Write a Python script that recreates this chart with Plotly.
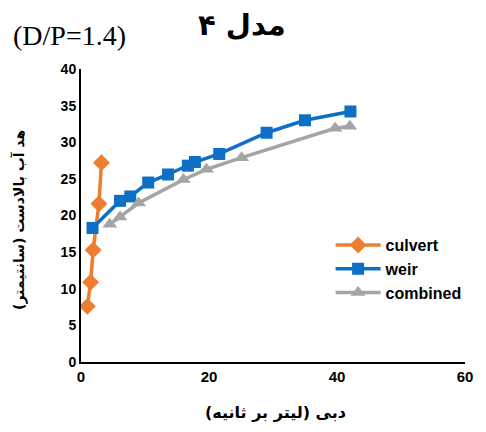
import plotly.graph_objects as go

culvert_x = [1.0, 1.5, 1.9, 2.8, 3.2]
culvert_y = [7.6, 10.9, 15.3, 21.6, 27.2]

weir_x = [1.8, 6.1, 7.7, 10.5, 13.6, 16.7, 17.8, 21.6, 29.0, 35.0, 42.1]
weir_y = [18.3, 22.0, 22.6, 24.5, 25.6, 26.8, 27.3, 28.4, 31.3, 33.0, 34.2]

comb_x = [4.5, 6.1, 9.0, 16.0, 19.6, 25.1, 39.7, 42.0]
comb_y = [18.8, 19.8, 21.7, 24.9, 26.3, 27.9, 31.9, 32.2]

fig = go.Figure()
fig.add_trace(go.Scatter(x=culvert_x, y=culvert_y, name="culvert", mode="lines+markers",
                         line=dict(color="#ED7D31", width=3.5),
                         marker=dict(symbol="diamond", size=13, color="#ED7D31")))
fig.add_trace(go.Scatter(x=weir_x, y=weir_y, name="weir", mode="lines+markers",
                         line=dict(color="#0F6FC6", width=3.5),
                         marker=dict(symbol="square", size=12, color="#0F6FC6")))
fig.add_trace(go.Scatter(x=comb_x, y=comb_y, name="combined", mode="lines+markers",
                         line=dict(color="#A5A5A5", width=3.5),
                         marker=dict(symbol="triangle-up", size=13, color="#A5A5A5")))

# page offset of 8px (body margin) compensated: figure drawn at (8,8)
fig.update_layout(
    width=478, height=424,
    margin=dict(l=73, r=21, t=61, b=70),
    paper_bgcolor="white", plot_bgcolor="white",
    showlegend=True,
    legend=dict(x=0.65, y=0.457, xanchor="left", yanchor="top",
                font=dict(family="Liberation Sans", size=16, color="black", weight="bold"),
                bgcolor="rgba(0,0,0,0)", tracegroupgap=0, itemwidth=45),
    xaxis=dict(range=[0, 60], dtick=20, showgrid=False, zeroline=False,
               showline=True, linecolor="black", linewidth=2, ticks="",
               tickfont=dict(family="Liberation Sans", size=15, color="black", weight="bold")),
    yaxis=dict(range=[0, 40], dtick=5, showgrid=False, zeroline=False,
               showline=True, linecolor="black", linewidth=2, ticks="",
               tickfont=dict(family="Liberation Sans", size=14, color="black", weight="bold")),
)

def px(xp): return (xp - 81) / 384
def py(yp): return (362 - yp) / 293

common = dict(xref="paper", yref="paper", showarrow=False, xanchor="center", yanchor="middle")
fig.update_layout(annotations=[
    dict(text="مدل ۴", x=px(242), y=py(25), **common,
         font=dict(family="DejaVu Sans", size=29, color="black", weight="bold")),
    dict(text="(D/P=1.4)", x=px(69), y=py(35), **common,
         font=dict(family="Liberation Serif", size=28, color="black")),
    dict(text="دبی (لیتر بر ثانیه)", x=px(275), y=py(412), **common,
         font=dict(family="DejaVu Sans", size=16, color="black", weight="bold")),
    dict(text="هد آب بالادست (سانتیمتر)", x=px(19), y=py(220), textangle=-90, **common,
         font=dict(family="DejaVu Sans", size=14, color="black", weight="bold")),
])

fig.write_html("out.html")
